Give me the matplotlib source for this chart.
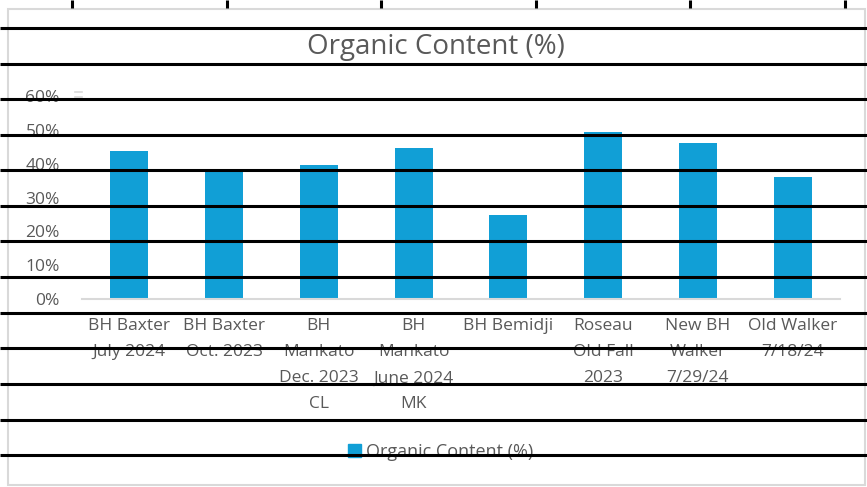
import matplotlib.pyplot as plt
from matplotlib.patches import Rectangle
from matplotlib.ticker import PercentFormatter

plt.rcParams['font.family'] = ['Open Sans', 'DejaVu Sans']

categories = [
    "BH Baxter\nJuly 2024",
    "BH Baxter\nOct. 2023",
    "BH\nMankato\nDec. 2023\nCL",
    "BH\nMankato\nJune 2024\nMK",
    "BH Bemidji",
    "Roseau\nOld Fall\n2023",
    "New BH\nWalker\n7/29/24",
    "Old Walker\n7/18/24",
]
organic = [0.438, 0.382, 0.396, 0.447, 0.249, 0.494, 0.462, 0.361]
yticks = [0, 0.1, 0.2, 0.3, 0.4, 0.5, 0.6]

W, H = 867, 487
grey = "#595959"
bar_color = "#119fd6"

fig = plt.figure(figsize=(W / 100, H / 100), dpi=100)
fig.patch.set_facecolor("white")

# chart plot area (pixel coords from the reference)
x0, x1, ytop, ybot = 82, 840, 96, 299
ax = fig.add_axes([x0 / W, 1 - ybot / H, (x1 - x0) / W, (ybot - ytop) / H])
ax.bar(range(len(categories)), organic, width=0.4, color=bar_color, zorder=2)
ax.set_xlim(-0.5, len(categories) - 0.5)
ax.set_ylim(0, 0.6)
ax.set_yticks(yticks)
ax.yaxis.set_major_formatter(PercentFormatter(1.0, decimals=0))
ax.set_xticks(range(len(categories)))
ax.set_xticklabels(categories, linespacing=1.83)
ax.tick_params(axis="x", length=0, pad=14, labelsize=12.5, colors=grey)
ax.tick_params(axis="y", length=0, pad=16, labelsize=12.5, colors=grey)
for s in ["top", "right", "left"]:
    ax.spines[s].set_visible(False)
ax.spines["bottom"].set_color("#d9d9d9")
ax.spines["bottom"].set_linewidth(1.5)
ax.set_facecolor("none")

fig.text(436 / W, 1 - 47 / H, "Organic Content (%)", ha="center", va="center",
         fontsize=20, color=grey)

# legend
leg = fig.legend(handles=[Rectangle((0, 0), 1, 1, color=bar_color)],
                 labels=["Organic Content (%)"], loc="center",
                 bbox_to_anchor=(441 / W, 1 - 452 / H), frameon=False,
                 fontsize=13, handlelength=0.7, handleheight=0.7,
                 handletextpad=0.3, labelcolor=grey)

# spreadsheet cell borders drawn over the chart
ov = fig.add_axes([0, 0, 1, 1], zorder=10)
ov.set_xlim(0, W)
ov.set_ylim(H, 0)
ov.axis("off")
ov.patch.set_alpha(0)
ov.add_patch(Rectangle((8, 9), 857, 476, fill=False, edgecolor="#d9d9d9", lw=1.5))
ov.plot([75, 82], [92, 92], color="#d9d9d9", lw=1.2)
ov.plot([75, 82], [97, 97], color="#d9d9d9", lw=1.2)
for y in [28, 64, 99, 135, 170, 206, 241, 277, 313, 348, 384, 420, 455]:
    ov.plot([0, W], [y, y], color="black", lw=2.2, solid_capstyle="butt")
for x in [72, 227, 381, 536, 690, 845]:
    ov.plot([x, x], [0, 8], color="black", lw=2.2, solid_capstyle="butt")

fig.savefig("out.png", dpi=100)
